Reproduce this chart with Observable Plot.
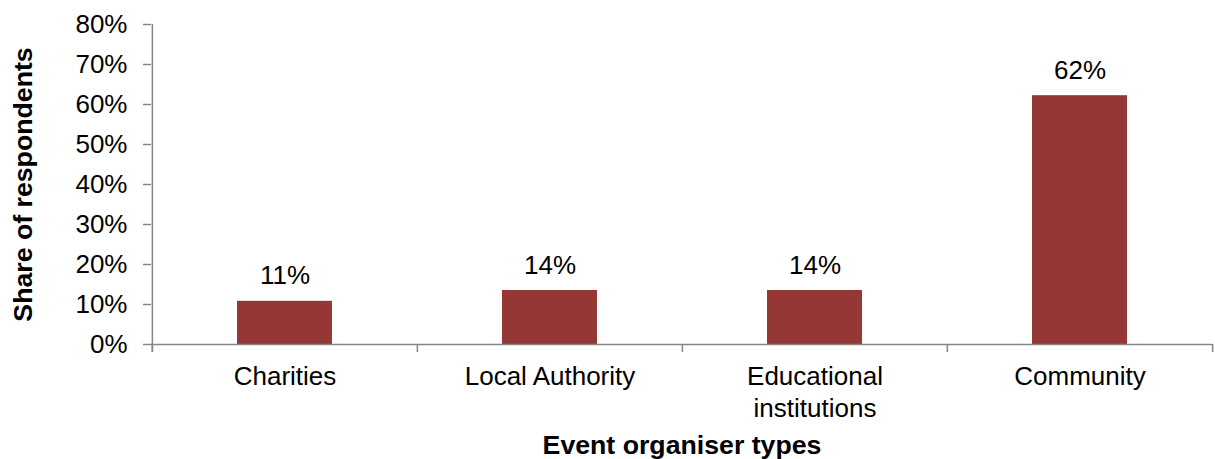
<!DOCTYPE html>
<html><head><meta charset="utf-8">
<script src="https://cdn.jsdelivr.net/npm/d3@7"></script>
<script src="https://cdn.jsdelivr.net/npm/@observablehq/plot@0.6"></script>
<style>body{margin:0;background:#fff}</style>
</head><body><div id="chart"></div>
<script>
const categories = ["Charities", "Local Authority", "Educational institutions", "Community"];
const tickLabels = ["Charities", "Local Authority", "Educational\ninstitutions", "Community"];
const values = [10.8, 13.5, 13.5, 62.2];
const valueLabels = ["11%", "14%", "14%", "62%"];
const yTicks = [0, 10, 20, 30, 40, 50, 60, 70, 80];
const yTitle = "Share of respondents";
const xTitle = "Event organiser types";

const W = 1215, H = 459, ML = 151, MR = 3, MT = 24, MB = 115;
const step = (W - ML - MR) / categories.length;
const data = categories.map((c, i) => ({c, v: values[i], label: valueLabels[i]}));
const grey = "#868686";
const barColor = "#953735";

const chart = Plot.plot({
  width: W, height: H,
  marginLeft: ML, marginRight: MR, marginTop: MT, marginBottom: MB,
  style: {fontFamily: "'Liberation Sans', Arial, sans-serif", fontSize: "26px", color: "#000", background: "#fff", overflow: "visible"},
  x: {domain: categories, paddingInner: 0.642, paddingOuter: 0.321},
  y: {domain: [0, 80]},
  marks: [
    Plot.barY(data, {x: "c", y: "v", fill: barColor}),
    Plot.ruleY([0], {stroke: grey, strokeWidth: 1.5}),
    Plot.ruleX([categories[0]], {x: d => d, dx: -step / 2, y1: -2, y2: 80, stroke: grey, strokeWidth: 1.5}),
    Plot.ruleX(categories, {x: d => d, dx: -step / 2, y1: 0, y2: -2, stroke: grey, strokeWidth: 1.5}),
    Plot.ruleX([categories[categories.length - 1]], {x: d => d, dx: step / 2, y1: 0, y2: -2, stroke: grey, strokeWidth: 1.5}),
    Plot.axisY({ticks: yTicks, tickFormat: d => d + "%", tickSize: 8, tickPadding: 16, stroke: grey, strokeWidth: 1.5, label: null, fontSize: 26}),
    Plot.axisX({tickSize: 0, tickPadding: 18, tickFormat: d => tickLabels[categories.indexOf(d)], label: null, fontSize: 26, lineHeight: 1.23}),
    Plot.text(data, {x: "c", y: "v", text: "label", dy: -17, lineAnchor: "bottom", fontSize: 26, fill: "#000"}),
    Plot.text([yTitle], {text: d => d, frameAnchor: "left", textAnchor: "middle", dx: -128.5, rotate: -90, fontWeight: "bold", fontSize: 26.7, fill: "#000"}),
    Plot.text([xTitle], {text: d => d, frameAnchor: "bottom", dy: 109, lineAnchor: "bottom", fontWeight: "bold", fontSize: 26.7, fill: "#000"})
  ]
});
document.getElementById("chart").appendChild(chart);
</script>
</body></html>
